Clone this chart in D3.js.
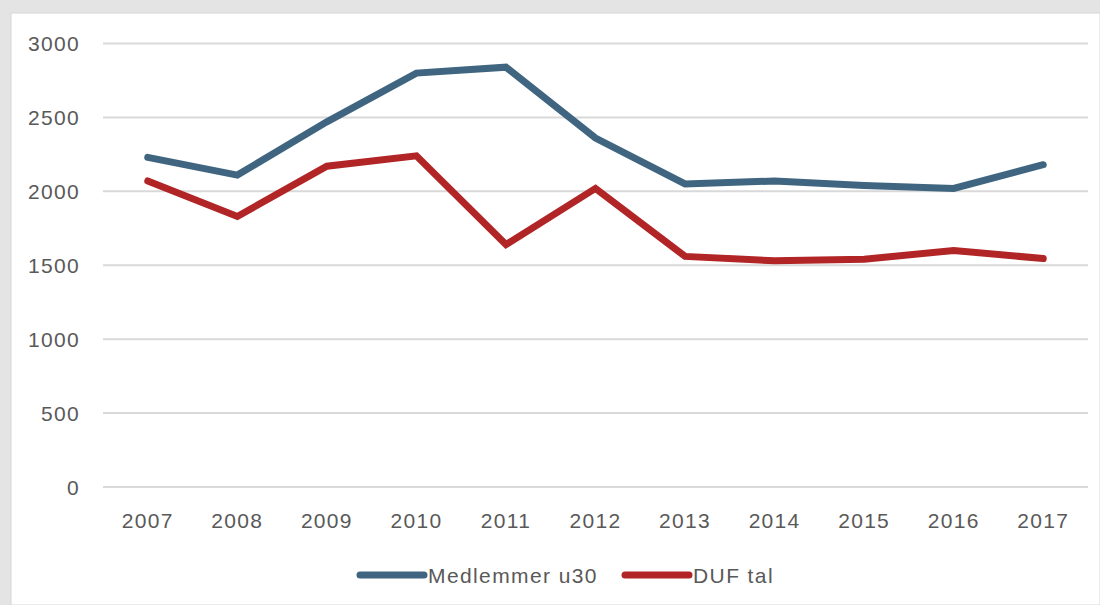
<!DOCTYPE html>
<html>
<head>
<meta charset="utf-8">
<script src="https://cdn.jsdelivr.net/npm/d3@7"></script>
<style>
  html, body { margin: 0; padding: 0; background: #e4e4e4; }
  svg { display: block; }
  text { font-family: "Liberation Sans", Arial, sans-serif; fill: #595959; }
</style>
</head>
<body>
<div id="chart"></div>
<script>
const years = ["2007", "2008", "2009", "2010", "2011", "2012", "2013", "2014", "2015", "2016", "2017"];
const medlemmer = [2230, 2110, 2470, 2800, 2840, 2360, 2050, 2070, 2040, 2020, 2180];
const dufTal = [2070, 1830, 2170, 2240, 1640, 2020, 1560, 1530, 1540, 1600, 1545];
const yTicks = [0, 500, 1000, 1500, 2000, 2500, 3000];
const seriesNames = ["Medlemmer u30", "DUF tal"];
const colors = ["#3f6580", "#b22526"];

const width = 1100, height = 605;
const svg = d3.select("#chart").append("svg")
    .attr("width", width)
    .attr("height", height);

// white panel
svg.append("rect")
    .attr("x", 11).attr("y", 13)
    .attr("width", width - 11).attr("height", height - 13)
    .attr("fill", "#ffffff")
    .attr("stroke", "#d6d6d6")
    .attr("stroke-width", 1);

const plotLeft = 103, plotRight = 1088, plotTop = 43.5, plotBottom = 487;

const x = d3.scaleBand()
    .domain(years)
    .range([plotLeft, plotRight])
    .padding(0);

const y = d3.scaleLinear()
    .domain([0, 3000])
    .range([plotBottom, plotTop]);

// gridlines
svg.append("g")
    .selectAll("line")
    .data(yTicks)
    .enter().append("line")
    .attr("x1", plotLeft).attr("x2", plotRight)
    .attr("y1", d => y(d)).attr("y2", d => y(d))
    .attr("stroke", "#d9d9d9")
    .attr("stroke-width", 2);

// y labels
svg.append("g")
    .selectAll("text")
    .data(yTicks)
    .enter().append("text")
    .attr("x", 80)
    .attr("y", d => y(d) + 7.5)
    .attr("text-anchor", "end")
    .style("font-size", "21px")
    .style("letter-spacing", "1.3px")
    .text(d => d);

// x labels
svg.append("g")
    .selectAll("text")
    .data(years)
    .enter().append("text")
    .attr("x", d => x(d) + x.bandwidth() / 2)
    .attr("y", 528)
    .attr("text-anchor", "middle")
    .style("font-size", "21px")
    .style("letter-spacing", "1.3px")
    .text(d => d);

const line = d3.line()
    .x((d, i) => x(years[i]) + x.bandwidth() / 2)
    .y(d => y(d));

[medlemmer, dufTal].forEach((s, i) => {
    svg.append("path")
        .datum(s)
        .attr("d", line)
        .attr("fill", "none")
        .attr("stroke", colors[i])
        .attr("stroke-width", 7)
        .attr("stroke-linejoin", "miter")
        .attr("stroke-linecap", "round");
});

// legend
const legendX = [360, 625];
const legend = svg.append("g");
seriesNames.forEach((name, i) => {
    legend.append("line")
        .attr("x1", legendX[i]).attr("x2", legendX[i] + 64)
        .attr("y1", 575).attr("y2", 575)
        .attr("stroke", colors[i])
        .attr("stroke-width", 7)
        .attr("stroke-linecap", "round");
    legend.append("text")
        .attr("x", legendX[i] + 68)
        .attr("y", 582.5)
        .style("font-size", "21px")
        .style("letter-spacing", "1.4px")
        .text(name);
});
</script>
</body>
</html>
